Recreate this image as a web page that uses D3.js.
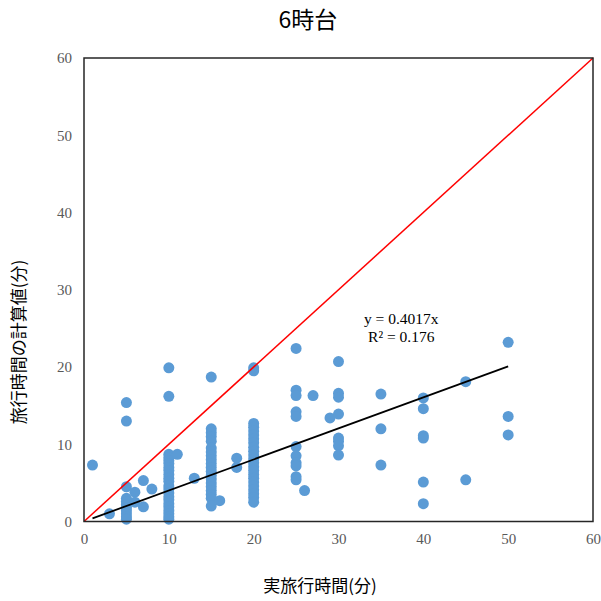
<!DOCTYPE html>
<html><head><meta charset="utf-8">
<script src="https://cdn.jsdelivr.net/npm/d3@7"></script>
<style>body{margin:0;background:#fff}</style>
</head><body>
<script>
const title = "6時台";
const xLabel = "実旅行時間(分)";
const yLabel = "旅行時間の計算値(分)";
const xTicks = [0,10,20,30,40,50,60];
const yTicks = [0,10,20,30,40,50,60];
const slope = 0.4017;
const r2 = 0.176;
const trendRange = [1, 50];
const actualX = [
 1,3,
 5,5,5,5,5,5,5,5,5,5,5,
 6,6,7,7,8,
 10,10,10,10,10,10,10,10,10,10,10,10,10,10,10,10,10,10,10,10,10,10,
 11,13,
 15,15,15,15,15,15,15,15,15,15,15,15,15,15,15,15,15,15,15,15,
 16,18,18,
 20,20,20,20,20,20,20,20,20,20,20,20,20,20,20,20,20,20,20,20,20,20,20,
 25,25,25,25,25,25,25,25,25,25,25,
 26,27,29,
 30,30,30,30,30,30,30,30,
 35,35,35,
 40,40,40,40,40,40,
 45,45,
 50,50,50
];
const calcY = [
 7.3,1.0,
 15.4,13.0,4.5,3.0,2.6,2.2,1.8,1.4,1.0,0.6,0.3,
 3.8,2.5,5.3,1.9,4.2,
 19.9,16.2,8.7,8.3,7.9,7.5,7.0,6.6,6.1,5.6,5.2,4.6,4.2,3.7,3.2,2.8,2.3,1.9,1.4,1.0,0.6,0.3,
 8.7,5.6,
 18.7,12.0,11.5,11.0,10.4,9.5,9.0,8.5,8.0,7.5,7.0,6.5,6.0,5.5,5.0,4.5,4.0,3.5,3.0,2.0,
 2.7,8.2,7.0,
 19.9,19.5,12.7,12.2,11.7,11.2,10.7,10.2,9.6,9.1,8.6,8.1,7.6,7.1,6.6,6.1,5.6,5.1,4.6,4.1,3.6,3.1,2.5,
 22.4,17.0,16.3,14.2,13.6,9.7,8.5,7.6,7.2,5.8,5.4,
 4.0,16.3,13.4,
 20.7,16.6,16.1,13.9,10.8,10.4,9.8,8.6,
 16.5,12.0,7.3,
 16.0,14.6,11.1,10.8,5.1,2.3,
 18.1,5.4,
 23.2,13.6,11.2
];

const W = 601, H = 601;
const m = {left:84, right:593, top:58, bottom:521.5};
const svg = d3.select("body").append("svg").attr("width",W).attr("height",H);
const x = d3.scaleLinear().domain([0,60]).range([m.left,m.right]);
const y = d3.scaleLinear().domain([0,60]).range([m.bottom,m.top]);

const pts = actualX.map((v,i)=>({x:v,y:calcY[i]}));

// points
svg.append("g").selectAll("circle").data(pts).join("circle")
  .attr("cx",d=>x(d.x)).attr("cy",d=>y(d.y)).attr("r",5.5)
  .attr("fill","#5B9BD5");

// y = x line
svg.append("line").attr("x1",x(0)).attr("y1",y(0)).attr("x2",x(60)).attr("y2",y(60))
  .attr("stroke","#FF0000").attr("stroke-width",1.5);
// trendline
svg.append("line").attr("x1",x(trendRange[0])).attr("y1",y(slope*trendRange[0]))
  .attr("x2",x(trendRange[1])).attr("y2",y(slope*trendRange[1]))
  .attr("stroke","#000").attr("stroke-width",1.8);

// frame
svg.append("rect").attr("x",m.left).attr("y",m.top).attr("width",m.right-m.left).attr("height",m.bottom-m.top)
  .attr("fill","none").attr("stroke","#262626").attr("stroke-width",1.5);

// axes
const xAxis = d3.axisBottom(x).tickValues(xTicks).tickSize(0).tickPadding(12);
const gx = svg.append("g").attr("transform",`translate(0,${m.bottom})`).call(xAxis);
const yAxis = d3.axisLeft(y).tickValues(yTicks).tickSize(0).tickPadding(12);
const gy = svg.append("g").attr("transform",`translate(${m.left},0)`).call(yAxis);
[gx,gy].forEach(g=>{
  g.select(".domain").remove();
  g.selectAll("text").attr("font-family","'Liberation Serif', serif").attr("font-size",15).attr("fill","#595959");
});

// equation
const eq = svg.append("g").attr("font-family","'Liberation Serif', serif").attr("font-size",15.5).attr("fill","#000");
eq.append("text").attr("x",x(37.4)).attr("y",y(25.55)).attr("text-anchor","middle").text(`y = ${slope}x`);
eq.append("text").attr("x",x(37.4)).attr("y",y(23.25)).attr("text-anchor","middle").text(`R² = ${r2}`);

// title
svg.append("text").attr("x",308).attr("y",28).attr("text-anchor","middle")
  .attr("font-family","'Noto Sans CJK JP', sans-serif").attr("font-size",23).attr("fill","#000").text(title);
// x label
svg.append("text").attr("x",320).attr("y",592).attr("text-anchor","middle")
  .attr("font-family","'Noto Sans CJK JP', sans-serif").attr("font-size",17).attr("fill","#000").text(xLabel);
// y label
svg.append("text").attr("transform",`translate(25,${342}) rotate(-90)`).attr("text-anchor","middle")
  .attr("font-family","'Noto Sans CJK JP', sans-serif").attr("font-size",17).attr("fill","#000").text(yLabel);
</script>
</body></html>
